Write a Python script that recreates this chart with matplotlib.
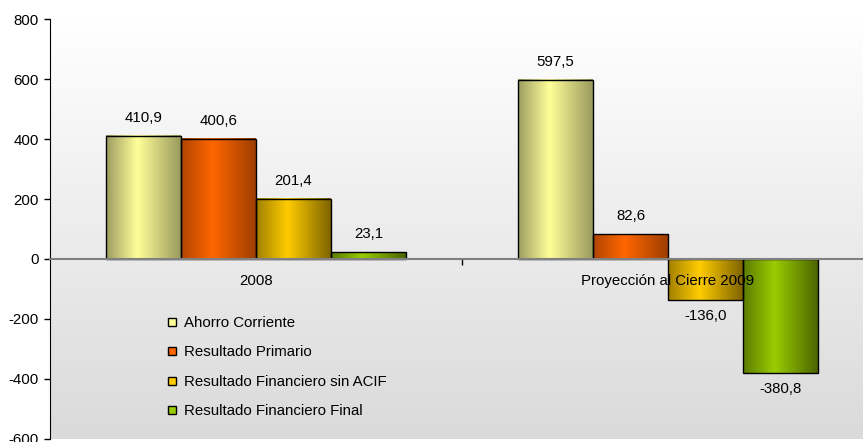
import numpy as np
import matplotlib.pyplot as plt
from matplotlib.colors import LinearSegmentedColormap
from matplotlib.lines import Line2D

plt.rcParams['font.family'] = ['Liberation Sans', 'DejaVu Sans']
plt.rcParams['axes.unicode_minus'] = False

categories = ['2008', 'Proyección al Cierre 2009']
series = ['Ahorro Corriente', 'Resultado Primario',
          'Resultado Financiero sin ACIF', 'Resultado Financiero Final']
ahorro = [410.9, 597.5]
primario = [400.6, 82.6]
fin_sin_acif = [201.4, -136.0]
fin_final = [23.1, -380.8]
values = [ahorro, primario, fin_sin_acif, fin_final]

# (dark left, light centre, dark right) for the cylinder-like shading
shades = [
    ('#9c9c62', '#ffff99', '#9a9a5e'),
    ('#b04500', '#ff6600', '#9e3e00'),
    ('#a07f00', '#ffcc00', '#7e6400'),
    ('#5b7b00', '#99cc00', '#4c6500'),
]

fs = 10.8

fig = plt.figure(figsize=(8.63, 4.42), dpi=100)
ax = fig.add_axes([50 / 863, 3 / 442, 824 / 863, 420 / 442])
ax.set_facecolor('none')

x = np.arange(len(categories))
w = 0.182
grad = np.linspace(0, 1, 256).reshape(1, -1)

for i, (name, vals) in enumerate(zip(series, values)):
    off = (i - 1.5) * w
    bars = ax.bar(x + off, vals, w, facecolor='none', edgecolor='black',
                  linewidth=1, zorder=2)
    cmap = LinearSegmentedColormap.from_list(
        'c%d' % i, [(0, shades[i][0]), (0.42, shades[i][1]), (1, shades[i][2])])
    for b, v in zip(bars, vals):
        bx, by = b.get_x(), b.get_y()
        bw, bh = b.get_width(), b.get_height()
        ax.imshow(grad, cmap=cmap, aspect='auto', zorder=1.5,
                  extent=[bx, bx + bw, min(by, by + bh), max(by, by + bh)])
        txt = f'{v:.1f}'.replace('.', ',')
        if v >= 0:
            ax.annotate(txt, (bx + bw / 2, v), xytext=(0, 13),
                        textcoords='offset points', ha='center', va='center',
                        fontsize=fs)
        else:
            ax.annotate(txt, (bx + bw / 2, v), xytext=(0, -11.5),
                        textcoords='offset points', ha='center', va='center',
                        fontsize=fs)

# background gradient white -> light grey
bg = np.linspace(1, 0, 256).reshape(-1, 1)
bg_cmap = LinearSegmentedColormap.from_list('bg', ['#dadada', '#ffffff'])
ax.imshow(bg, cmap=bg_cmap, aspect='auto', zorder=0,
          extent=[-0.5, 1.5, -600, 800])
ax.set_xlim(-0.5, 1.5)
ax.set_ylim(-600, 800)

ax.spines['top'].set_visible(False)
ax.spines['right'].set_visible(False)
ax.spines['bottom'].set_position(('data', 0))
ax.spines['bottom'].set_color('#808080')
ax.spines['bottom'].set_linewidth(1.5)
ax.spines['bottom'].set_zorder(2.5)

ax.set_yticks(np.arange(-600, 801, 200))
ax.tick_params(axis='y', direction='out', length=4, width=1, pad=4,
               labelsize=fs)

ax.set_xticks([0.5])
ax.set_xticklabels([''])
ax.set_xticks(x, minor=True)
ax.set_xticklabels(categories, minor=True)
ax.tick_params(axis='x', which='major', direction='out', length=4, width=1,
               color='black')
ax.tick_params(axis='x', which='minor', length=0, pad=11, labelsize=fs)

handles = [Line2D([], [], linestyle='none', marker='s', markersize=5.8,
                  markerfacecolor=s[1], markeredgecolor='black',
                  markeredgewidth=1) for s in shades]
ax.legend(handles, series, loc='upper left', frameon=False, fontsize=fs,
          bbox_to_anchor=(167 / 863, 1 - 316 / 442),
          bbox_transform=fig.transFigure, borderaxespad=0, borderpad=0,
          handlelength=0.7, handletextpad=0.4, labelspacing=1.03)

fig.savefig('out.png', dpi=100)
